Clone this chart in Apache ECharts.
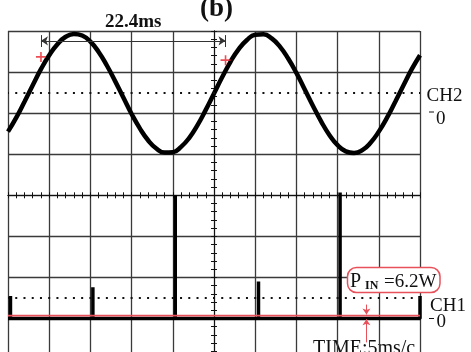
<!DOCTYPE html>
<html>
<head>
<meta charset="utf-8">
<script src="https://cdn.jsdelivr.net/npm/echarts@6/dist/echarts.min.js"></script>
<style>
  html, body { margin: 0; padding: 0; background: #fff; }
  #scope { width: 471px; height: 352px; }
</style>
</head>
<body>
<div id="scope"></div>
<script>
// Horizontal unit: ms relative to the trigger (screen centre), 5 ms per division.
// Vertical unit: screen divisions, centre line = 0.

// CH2: line voltage, sampled every millisecond
const ch2Times = [-25, -24, -23, -22, -21, -20, -19, -18, -17, -16, -15, -14, -13, -12, -11, -10, -9, -8, -7, -6, -5, -4, -3, -2, -1,
                  0, 1, 2, 3, 4, 5, 6, 7, 8, 9, 10, 11, 12, 13, 14, 15, 16, 17, 18, 19, 20, 21, 22, 23, 24, 25];
const ch2Volts = [1.55, 1.89, 2.28, 2.68, 3.07, 3.41, 3.68, 3.86, 3.93, 3.89, 3.74, 3.49, 3.16, 2.78, 2.38, 1.98, 1.63, 1.34, 1.14, 1.04, 1.05, 1.18, 1.40, 1.71, 2.08,
                  2.48, 2.88, 3.25, 3.56, 3.78, 3.91, 3.92, 3.82, 3.62, 3.33, 2.98, 2.58, 2.18, 1.80, 1.47, 1.22, 1.07, 1.03, 1.10, 1.28, 1.55, 1.89, 2.28, 2.68, 3.07, 3.41];

// CH1: input current, flat with short charging pulses
const ch1Times = [-25, -24.7, -24.7, -24.7, -14.7, -14.7, -14.7, -4.7, -4.7, -4.7, 5.4, 5.4, 5.4, 15.3, 15.3, 15.3, 25, 25];
const ch1Volts = [-3, -3, -2.45, -3, -3, -2.24, -3, -3, 0, -3, -3, -2.1, -3, -3, 0.07, -3, -3, -2.45];

// Input power trace
const pinTimes = [-25, 25];
const pinLevel = [-2.93, -2.93];

// Reference levels drawn dotted
const refLevels = [2.5, -2.5];

// Time cursors (22.4 ms apart) and their markers on CH2
const cursorTimes = [-21.0, 1.4];
const cursorMarks = [3.37, 3.29];
const cursorLevel = 3.76;
const cursorBar = [3.61, 3.90];

// Marker on the power trace
const markerTime = 18.5;
const markerUpper = [-2.66, -2.9];
const markerLower = [-3.58, -3.02];

const INK = '#111';
const GRID = '#3a3a3a';
const RED = '#e8505a';
const SERIF = '"Liberation Serif", "Times New Roman", serif';

const pairs = (xs, ys) => xs.map((x, i) => [x, ys[i]]);

const centreTicks = {
  axisLabel: { show: false },
  axisTick: { show: true, length: 3, lineStyle: { color: INK, width: 1 } },
  minorTick: { show: true, splitNumber: 5, length: 3, lineStyle: { color: INK, width: 1 } },
  axisLine: { show: true, onZero: true, lineStyle: { color: INK, width: 1 } }
};

const chart = echarts.init(document.getElementById('scope'), null, { renderer: 'canvas' });

chart.setOption({
  animation: false,
  backgroundColor: '#fff',
  // eight divisions tall: the lowest one runs past the bottom of the screen
  grid: { left: 8, top: 31, width: 412, height: 328.6, containLabel: false, outerBoundsMode: 'none' },
  xAxis: [
    Object.assign({ type: 'value', min: -25, max: 25, interval: 5, position: 'bottom',
      splitLine: { show: true, lineStyle: { color: GRID, width: 1.3 } } }, centreTicks),
    Object.assign({ type: 'value', min: -25, max: 25, interval: 5, position: 'top',
      splitLine: { show: false } }, centreTicks)
  ],
  yAxis: [
    Object.assign({ type: 'value', min: -4, max: 4, interval: 1, position: 'left',
      splitLine: { show: true, lineStyle: { color: GRID, width: 1.3 } } }, centreTicks),
    Object.assign({ type: 'value', min: -4, max: 4, interval: 1, position: 'right',
      splitLine: { show: false } }, centreTicks)
  ],
  series: [
    {
      name: 'levels', type: 'line', data: [], z: 1, silent: true,
      markLine: {
        silent: true, symbol: ['none', 'none'], label: { show: false },
        lineStyle: { color: INK, width: 2, type: [2, 6.24], dashOffset: 1, cap: 'butt' },
        data: refLevels.map(v => [{ coord: [-25, v] }, { coord: [25, v] }])
      }
    },
    {
      name: 'CH2', type: 'line', smooth: true, showSymbol: false, z: 3,
      lineStyle: { color: '#000', width: 4.5 },
      data: pairs(ch2Times, ch2Volts)
    },
    {
      name: 'CH1', type: 'line', smooth: false, showSymbol: false, z: 3,
      lineStyle: { color: '#000', width: 3.5 },
      data: pairs(ch1Times, ch1Volts)
    },
    {
      name: 'PIN', type: 'line', showSymbol: false, z: 4,
      lineStyle: { color: RED, width: 1.6 },
      data: pairs(pinTimes, pinLevel),
      markLine: {
        silent: true, symbol: ['none', 'arrow'], symbolSize: 6, label: { show: false },
        lineStyle: { color: RED, width: 1, type: 'solid' },
        data: [
          [{ coord: [markerTime, markerUpper[0]] }, { coord: [markerTime, markerUpper[1]] }],
          [{ coord: [markerTime, markerLower[0]] }, { coord: [markerTime, markerLower[1]] }]
        ]
      }
    },
    {
      name: 'cursors', type: 'scatter', z: 5, silent: true,
      symbol: 'path://M4.2,0H5.8V4.2H10V5.8H5.8V10H4.2V5.8H0V4.2H4.2Z',
      symbolSize: 10,
      itemStyle: { color: '#e8202a' },
      data: pairs(cursorTimes, cursorMarks),
      markLine: {
        silent: true, label: { show: false }, symbol: ['none', 'none'],
        lineStyle: { color: '#333', width: 1, type: 'solid' },
        data: [
          [{ coord: [cursorTimes[0], cursorLevel], symbol: 'arrow', symbolSize: 7 },
           { coord: [cursorTimes[1], cursorLevel], symbol: 'arrow', symbolSize: 7 }],
          [{ coord: [cursorTimes[0], cursorBar[0]] }, { coord: [cursorTimes[0], cursorBar[1]] }],
          [{ coord: [cursorTimes[1], cursorBar[0]] }, { coord: [cursorTimes[1], cursorBar[1]] }]
        ]
      }
    }
  ],
  graphic: [
    { type: 'text', x: 200, y: 9, style: { text: '(b)', font: 'bold 27px ' + SERIF, fill: '#111', verticalAlign: 'middle' } },
    { type: 'text', x: 105, y: 21.7, style: { text: '22.4ms', font: 'bold 19px ' + SERIF, fill: '#111', verticalAlign: 'middle' } },
    { type: 'text', x: 426.5, y: 96.5, style: { text: 'CH2', font: '19px ' + SERIF, fill: '#111', verticalAlign: 'middle' } },
    { type: 'line', shape: { x1: 429, y1: 112, x2: 434, y2: 112 }, style: { stroke: '#111', lineWidth: 1 } },
    { type: 'text', x: 436, y: 119, style: { text: '0', font: '19px ' + SERIF, fill: '#111', verticalAlign: 'middle' } },
    { type: 'text', x: 430, y: 306, style: { text: 'CH1', font: '19px ' + SERIF, fill: '#111', verticalAlign: 'middle' } },
    { type: 'line', shape: { x1: 429, y1: 318.5, x2: 434, y2: 318.5 }, style: { stroke: '#111', lineWidth: 1 } },
    { type: 'text', x: 436.5, y: 322.5, style: { text: '0', font: '19px ' + SERIF, fill: '#111', verticalAlign: 'middle' } },
    { type: 'text', x: 313, y: 348.7, style: { text: 'TIME:5ms/c', font: '20px ' + SERIF, fill: '#111', verticalAlign: 'middle' } },
    { type: 'rect', shape: { x: 347.5, y: 267.5, width: 92.5, height: 25, r: 9 }, style: { fill: '#fff', stroke: RED, lineWidth: 1.5 }, z: 10 },
    { type: 'text', x: 350, y: 282, z: 11, style: { text: 'P', font: '20px ' + SERIF, fill: '#111', verticalAlign: 'middle' } },
    { type: 'text', x: 365, y: 286, z: 11, style: { text: 'IN', font: 'bold 12px ' + SERIF, fill: '#111', verticalAlign: 'middle' } },
    { type: 'text', x: 384, y: 281.7, z: 11, style: { text: '=6.2W', font: '19px ' + SERIF, fill: '#111', verticalAlign: 'middle' } }
  ]
});
</script>
</body>
</html>
